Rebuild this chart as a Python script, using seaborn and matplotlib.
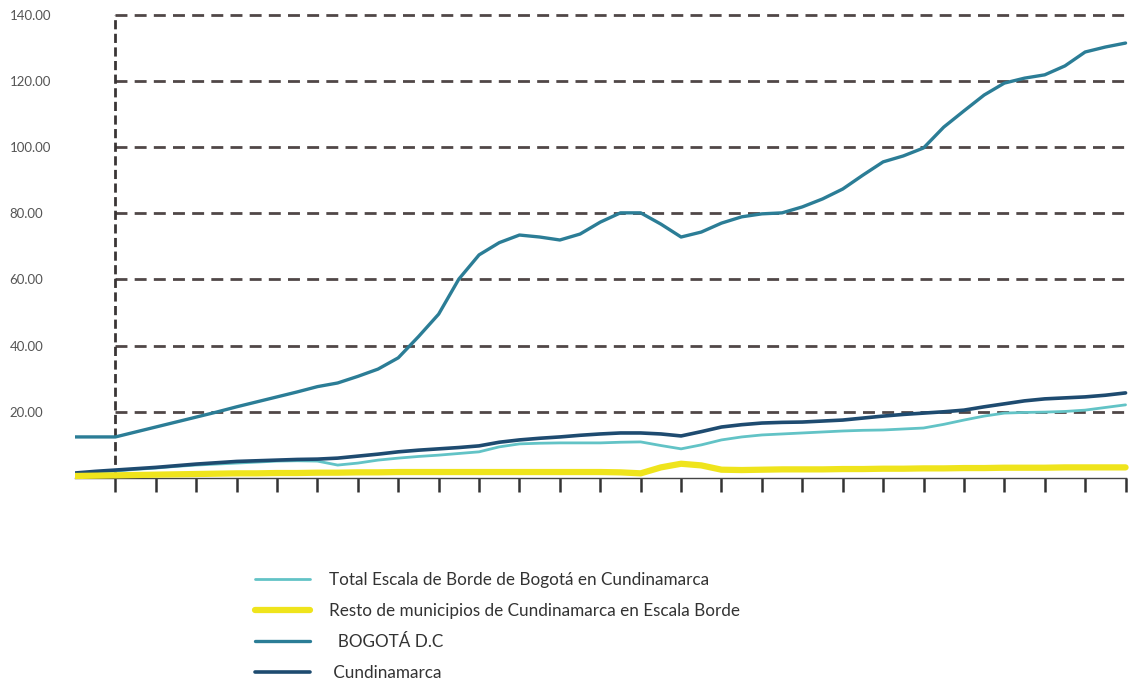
import numpy as np
import pandas as pd
import matplotlib
matplotlib.use("Agg")
import matplotlib.pyplot as plt
import seaborn as sns

# half-period steps along the axis (ticks every full period)
periodo = np.arange(53) / 2

total_borde = [1.2, 1.7, 2.1, 2.6, 3.0, 3.5, 3.9, 4.2, 4.5, 4.8, 5.1, 5.2, 5.1, 3.9, 4.5,
               5.4, 6.0, 6.5, 6.9, 7.4, 7.9, 9.4, 10.3, 10.5, 10.6, 10.6, 10.6, 10.8, 10.9,
               9.8, 8.8, 10.0, 11.5, 12.4, 13.0, 13.3, 13.6, 13.9, 14.2, 14.4, 14.5, 14.8,
               15.1, 16.2, 17.5, 18.7, 19.6, 19.8, 19.9, 20.1, 20.5, 21.3, 22.1]
resto_municipios = [0.6, 0.7, 0.8, 0.9, 1.0, 1.1, 1.2, 1.3, 1.4, 1.4, 1.5, 1.5, 1.6, 1.6,
                    1.7, 1.7, 1.8, 1.8, 1.8, 1.8, 1.8, 1.8, 1.8, 1.8, 1.8, 1.8, 1.8, 1.7,
                    1.4, 3.2, 4.3, 3.8, 2.5, 2.4, 2.5, 2.6, 2.6, 2.6, 2.7, 2.7, 2.8, 2.8,
                    2.9, 2.9, 3.0, 3.0, 3.1, 3.1, 3.1, 3.2, 3.2, 3.2, 3.2]
bogota = [12.4, 12.4, 12.4, 13.9, 15.4, 16.9, 18.4, 19.9, 21.5, 23.0, 24.5, 26.0, 27.6,
          28.7, 30.7, 32.9, 36.3, 42.7, 49.5, 60.1, 67.4, 71.1, 73.4, 72.8, 71.9, 73.7,
          77.3, 80.1, 80.1, 76.7, 72.8, 74.3, 77.0, 78.9, 79.8, 80.1, 81.9, 84.3, 87.3,
          91.5, 95.5, 97.3, 99.7, 106.0, 110.9, 115.7, 119.3, 120.8, 121.8, 124.5, 128.7,
          130.2, 131.4]
cundinamarca = [1.5, 2.0, 2.4, 2.8, 3.2, 3.7, 4.2, 4.6, 5.0, 5.2, 5.4, 5.6, 5.7, 6.0, 6.6,
                7.2, 7.9, 8.4, 8.8, 9.2, 9.7, 10.8, 11.5, 12.0, 12.4, 12.9, 13.3, 13.6,
                13.6, 13.3, 12.7, 14.0, 15.4, 16.1, 16.6, 16.8, 16.9, 17.2, 17.5, 18.1,
                18.7, 19.2, 19.6, 20.0, 20.5, 21.5, 22.4, 23.3, 23.9, 24.2, 24.5, 25.0, 25.7]

y_ticks = [20, 40, 60, 80, 100, 120, 140]
x_ticks = list(range(1, 27))

sns.set_style("white")
plt.rcParams["font.family"] = ["Lato", "DejaVu Sans"]

fig = plt.figure(figsize=(11.3, 6.81), dpi=100)
ax = fig.add_axes([75 / 1130, 0.2884, 1 - 75 / 1130, 0.6999])

grid_col = "#504747"
ax.hlines(y_ticks, 1, 26.11, colors=grid_col, lw=2.0, linestyles=(0, (4.3, 2.6)), zorder=1)
ax.vlines(1, 0, 140, colors="#3a3535", lw=2.0, linestyles=(0, (3.3, 1.6)), zorder=1)

sns.lineplot(x=periodo, y=total_borde, ax=ax, color="#62c3c6", lw=2.0,
             label="Total Escala de Borde de Bogotá en Cundinamarca", zorder=3)
sns.lineplot(x=periodo, y=cundinamarca, ax=ax, color="#1e4b70", lw=2.6,
             label=" Cundinamarca", zorder=4)
sns.lineplot(x=periodo, y=bogota, ax=ax, color="#2b7d96", lw=2.4,
             label="  BOGOTÁ D.C", zorder=4)
sns.lineplot(x=periodo, y=resto_municipios, ax=ax, color="#efe41c", lw=4.5,
             label="Resto de municipios de Cundinamarca en Escala Borde", zorder=5)

ax.set_xlim(0, 26.11)
ax.set_ylim(-2, 142)
ax.set_xticks(x_ticks)
ax.set_xticklabels([])
ax.set_yticks(y_ticks)
ax.set_yticklabels([f"{v:.2f}" for v in y_ticks], ha="left", color="#555555", fontsize=9.5)
ax.tick_params(axis="y", left=False, length=0, pad=47)
ax.tick_params(axis="x", bottom=True, direction="out", length=10, width=1.8, color="#333333")

for s in ["top", "right", "left"]:
    ax.spines[s].set_visible(False)
ax.spines["bottom"].set_position(("data", 0))
ax.spines["bottom"].set_bounds(0, 26)
ax.spines["bottom"].set_color("#444444")
ax.spines["bottom"].set_linewidth(1.0)

handles, labels = ax.get_legend_handles_labels()
order = [labels.index(l) for l in ["Total Escala de Borde de Bogotá en Cundinamarca",
                                     "Resto de municipios de Cundinamarca en Escala Borde",
                                     "  BOGOTÁ D.C", " Cundinamarca"]]
ax.get_legend().remove()
fig.legend([handles[i] for i in order], [labels[i] for i in order],
           loc="upper left", bbox_to_anchor=(255 / 1130, 0.160), frameon=False,
           fontsize=12.3, handlelength=3.2, handletextpad=1.15, labelspacing=0.88,
           borderpad=0, borderaxespad=0, labelcolor="#333333")

fig.savefig("out.png", dpi=100)
